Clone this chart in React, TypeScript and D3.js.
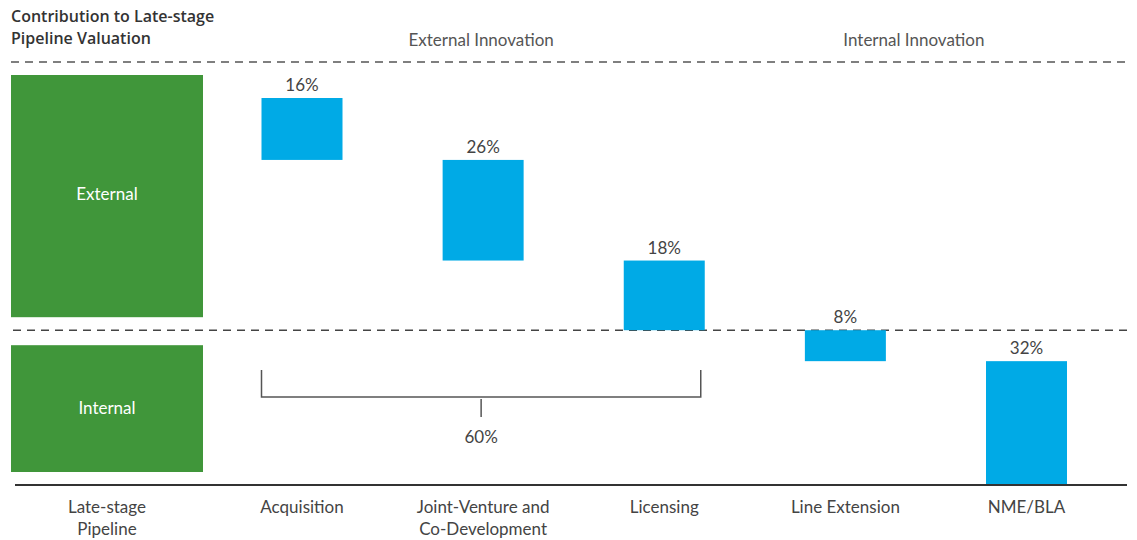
import React from "react";
import * as d3 from "d3";

const pipelineCategory = "Late-stage Pipeline";
const pipelineLines = ["Late-stage", "Pipeline"];
const steps = ["Acquisition", "Joint-Venture and Co-Development", "Licensing", "Line Extension", "NME/BLA"];
const stepLines = [["Acquisition"], ["Joint-Venture and", "Co-Development"], ["Licensing"], ["Line Extension"], ["NME/BLA"]];
const stepValues = [16, 26, 18, 8, 32];
const internalShare = 40;
const groupLabels = ["External Innovation", "Internal Innovation"];
const pipelineLabels = ["External", "Internal"];
const bracketLabel = "60%";
const titleLines = ["Contribution to Late-stage", "Pipeline Valuation"];

const W = 1137;
const H = 540;
const FONT = "Lato, 'Open Sans', sans-serif";
const TITLE_FONT = "'Open Sans', Lato, sans-serif";
const BLUE = "#00aae6";
const GREEN = "#40963a";
const TEXT = "#444";

export default function App() {
  const left = 11;
  const right = 1127;
  const gw = 192;
  const bw = 81;
  const topLine = 62;
  const pad = 13;

  const x = d3.scalePoint<string>().domain(steps).range([302, 1026.5]);
  const y = d3.scaleLinear().domain([0, 100]).range([485, 98]);
  const xg = left + gw / 2;

  let cum = 100;
  const bars = steps.map((s, i) => {
    const top = cum;
    cum -= stepValues[i];
    return { name: s, v: stepValues[i], top, bottom: cum, lines: stepLines[i] };
  });

  const midY = y(internalShare);

  const acqLeft = x(steps[0])! - bw / 2;
  const licRight = x(steps[2])! + bw / 2 - 4;
  const bTop = 370;
  const bMid = 397;
  const bracketMid = (acqLeft + licRight) / 2;

  return (
    <svg width={W} height={H} style={{ position: "absolute", left: 0, top: 0, background: "#fff" }}>
      {titleLines.map((t, i) => (
        <text key={t} x={left} y={22 + i * 22} fontFamily={TITLE_FONT} fontWeight={600} fontSize={16} fill="#333">
          {t}
        </text>
      ))}
      <text x={(acqLeft + licRight) / 2} y={46} textAnchor="middle" fontFamily={FONT} fontSize={17} fill="#555">
        {groupLabels[0]}
      </text>
      <text x={(licRight + right) / 2} y={46} textAnchor="middle" fontFamily={FONT} fontSize={17} fill="#555">
        {groupLabels[1]}
      </text>

      <line x1={left} x2={right} y1={topLine} y2={topLine} stroke="#555" strokeWidth={1.5} strokeDasharray="8,6" />
      <line x1={13} x2={right} y1={midY} y2={midY} stroke="#444" strokeWidth={1.5} strokeDasharray="8,6" />

      <rect x={xg - gw / 2} y={topLine + pad} width={gw} height={midY - pad - (topLine + pad)} fill={GREEN} />
      <rect x={xg - gw / 2} y={midY + 15} width={gw} height={y(0) - pad - (midY + 15)} fill={GREEN} />
      <text x={xg} y={(topLine + midY) / 2 + 4} textAnchor="middle" fontFamily={FONT} fontSize={17} fill="#fff">
        {pipelineLabels[0]}
      </text>
      <text x={xg} y={(midY + y(0)) / 2 + 6} textAnchor="middle" fontFamily={FONT} fontSize={17} fill="#fff">
        {pipelineLabels[1]}
      </text>

      {bars.map((b) => (
        <g key={b.name}>
          <rect x={x(b.name)! - bw / 2} y={y(b.top)} width={bw} height={y(b.bottom) - y(b.top)} fill={BLUE} />
          <text x={x(b.name)!} y={y(b.top) - 7} textAnchor="middle" fontFamily={FONT} fontSize={17} fill={TEXT}>
            {b.v}%
          </text>
        </g>
      ))}

      <path d={`M${acqLeft},${bTop}V${bMid}H${licRight}V${bTop}`} fill="none" stroke="#555" strokeWidth={1.5} />
      <line x1={bracketMid} x2={bracketMid} y1={bMid + 2} y2={bMid + 20} stroke="#555" strokeWidth={1.5} />
      <text x={bracketMid} y={443} textAnchor="middle" fontFamily={FONT} fontSize={17} fill={TEXT}>
        {bracketLabel}
      </text>

      <line x1={15} x2={right} y1={y(0)} y2={y(0)} stroke="#333" strokeWidth={2} />

      <text x={xg} textAnchor="middle" fontFamily={FONT} fontSize={17} fill={TEXT}>
        {pipelineLines.map((l, j) => (
          <tspan key={l} x={xg} y={513 + j * 22}>
            {l}
          </tspan>
        ))}
      </text>
      {bars.map((b) => (
        <text key={"l" + b.name} x={x(b.name)!} textAnchor="middle" fontFamily={FONT} fontSize={17} fill={TEXT}>
          {b.lines.map((l, j) => (
            <tspan key={l} x={x(b.name)!} y={513 + j * 22}>
              {l}
            </tspan>
          ))}
        </text>
      ))}
    </svg>
  );
}
